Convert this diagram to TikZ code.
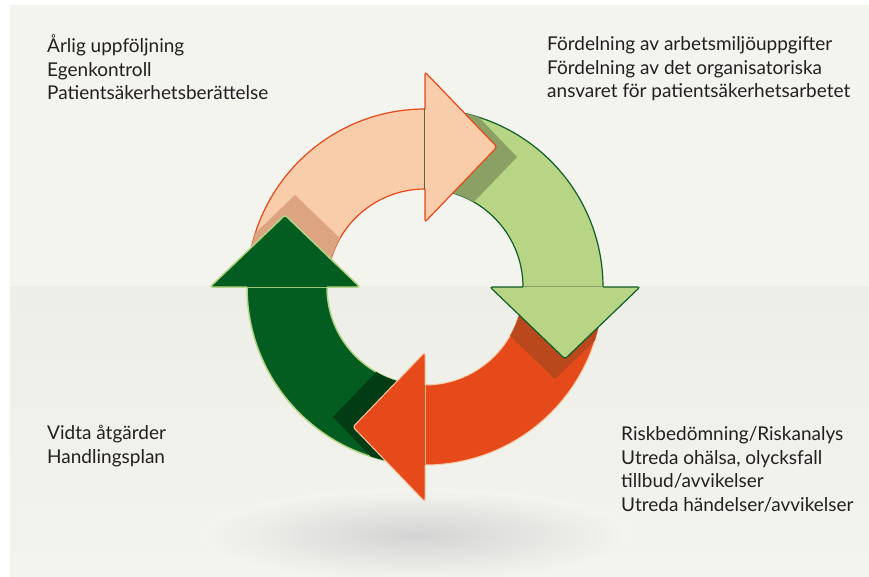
\documentclass[tikz,border=0pt]{standalone}
\usepackage{fontspec}
\setmainfont{Lato}
\usetikzlibrary{calc}

\definecolor{bgtop}{HTML}{F4F4EF}
\definecolor{bgbot}{HTML}{EEEEE9}
\definecolor{peach}{HTML}{F9CDA9}
\definecolor{peachline}{HTML}{E8471B}
\definecolor{lgreen}{HTML}{B8D585}
\definecolor{lgreenline}{HTML}{0E5E26}
\definecolor{orangered}{HTML}{E6491A}
\definecolor{orangeline}{HTML}{F6CBA6}
\definecolor{dgreen}{HTML}{035C20}
\definecolor{dgreenline}{HTML}{B5D486}
\definecolor{textgrey}{HTML}{231F20}

% radii of the ring and size of the heads
\newcommand{\rout}{178}
\newcommand{\rin}{98}
\newcommand{\rmid}{140}

% band from #1 to #2
\newcommand{\bandpath}[2]{($(c)+(#1:\rout)$) arc[start angle=#1, end angle=#2, radius=\rout] -- ($(c)+(#2:\rin)$) arc[start angle=#2, end angle=#1, radius=\rin] -- cycle}
% head at angle #1
\newcommand{\headfill}[2]{\fill[#2, rounded corners=2.5] ($(c)+(#1:65)$) -- ($(c)+(#1:215)$) -- ($(c)+(#1:\rmid)+(#1+90:72)$) -- cycle;}
\newcommand{\headline}[2]{\draw[#2, rounded corners=2.5] ($(c)+(#1:\rout)$) -- ($(c)+(#1:215)$) -- ($(c)+(#1:\rmid)+(#1+90:72)$) -- ($(c)+(#1:65)$) -- ($(c)+(#1:\rin)$);}
% shadow of the head at #1 on the next band
\newcommand{\headshadow}[2]{\begin{scope}
  \clip \bandpath{#1}{#1+90};
  \fill[#2] ($(c)+(#1:65)+(#1+90:20)+(#1+180:10)$) -- ($(c)+(#1:215)+(#1+90:20)+(#1+180:10)$) -- ($(c)+(#1:\rmid)+(#1+90:92)+(#1+180:10)$) -- cycle;
  \end{scope}}

\begin{document}
\begin{tikzpicture}[x=1pt, y=-1pt,
    label/.style={anchor=base west, align=left, inner sep=0pt, text=textgrey,
      font=\fontsize{19}{23.5}\selectfont}]
    \useasboundingbox (0,0) rectangle (869,577);
    % background
    \fill[white] (0,0) rectangle (869,577);
    \fill[bgtop] (10,5) rectangle (869,286);
    \shade[top color=bgbot, bottom color=bgtop] (10,286) rectangle (869,577);
    \shade[inner color=black!17, outer color=bgtop] (417,535) ellipse [x radius=215, y radius=46];

    \coordinate (c) at (425,287);

    % bands
    \filldraw[fill=peach, draw=peachline, line width=1.2] \bandpath{180}{270};
    \filldraw[fill=lgreen, draw=lgreenline, line width=1.2] \bandpath{270}{360};
    \filldraw[fill=orangered, draw=orangeline, line width=1] \bandpath{0}{90};
    \filldraw[fill=dgreen, draw=dgreenline, line width=1.5] \bandpath{90}{180};

    % shadows
    \headshadow{270}{black!25!lgreen}
    \headshadow{0}{black!20!orangered!80!brown}
    \headshadow{90}{black!35!dgreen}
    \headshadow{180}{black!12!peach!85!orangered}

    % heads
    \headfill{270}{peach}
    \headline{270}{peachline, line width=1.2}
    \headfill{0}{lgreen}
    \headline{0}{lgreenline, line width=1.2}
    \headfill{90}{orangered}
    \headline{90}{orangeline, line width=1}
    \headfill{180}{dgreen}
    \headline{180}{dgreenline, line width=1.5}

    % texts (anchored at the last line)
    \node[label] (followup) at (47,100) {Årlig uppföljning\\Egenkontroll\\Patientsäkerhetsberättelse};
    \node[label] (division) at (547,98) {Fördelning av arbetsmiljöuppgifter\\Fördelning av det organisatoriska\\ansvaret för patientsäkerhetsarbetet};
    \node[label] (measures) at (47,463) {Vidta åtgärder\\Handlingsplan};
    \node[label] (risk) at (621,511) {Riskbedömning/Riskanalys\\Utreda ohälsa, olycksfall\\tillbud/avvikelser\\Utreda händelser/avvikelser};
\end{tikzpicture}
\end{document}
